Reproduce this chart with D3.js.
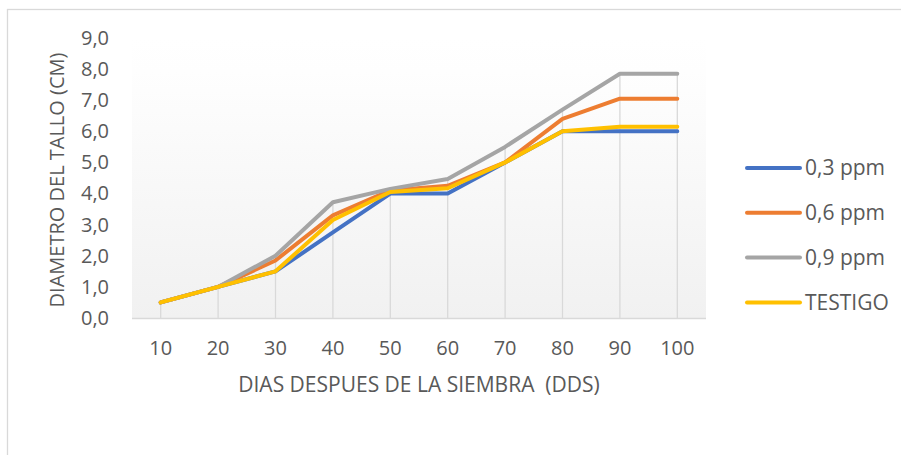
<!DOCTYPE html>
<html>
<head>
<meta charset="utf-8">
<script src="https://cdn.jsdelivr.net/npm/d3@7"></script>
<style>
  html, body { margin: 0; padding: 0; background: #fff; }
  svg { display: block; font-family: "Open Sans", "Noto Sans", sans-serif; }
</style>
</head>
<body>
<svg id="chart" width="901" height="455"></svg>
<script>
// Days after sowing (x categories)
const days = [10, 20, 30, 40, 50, 60, 70, 80, 90, 100];

// Stem diameter (cm) per treatment
const serie03 = [0.5, 1.0, 1.5, 2.75, 4.0, 4.0, 5.0, 6.0, 6.0, 6.0];
const serie06 = [0.5, 1.0, 1.85, 3.3, 4.1, 4.25, 5.0, 6.4, 7.05, 7.05];
const serie09 = [0.5, 1.0, 2.0, 3.72, 4.15, 4.47, 5.5, 6.7, 7.85, 7.85];
const testigo = [0.5, 1.0, 1.5, 3.15, 4.05, 4.17, 5.0, 6.0, 6.15, 6.15];

const seriesNames = ["0,3 ppm", "0,6 ppm", "0,9 ppm", "TESTIGO"];
const seriesColors = ["#4472C4", "#ED7D31", "#A5A5A5", "#FFC000"];
const seriesValues = [serie03, serie06, serie09, testigo];

const yTicks = [0, 1, 2, 3, 4, 5, 6, 7, 8, 9];

const svg = d3.select("#chart");

// Outer chart frame
svg.append("rect")
  .attr("x", 7.5).attr("y", 9.5)
  .attr("width", 910).attr("height", 460)
  .attr("fill", "#fff")
  .attr("stroke", "#d9d9d9").attr("stroke-width", 1.3);

const plot = { left: 132, right: 706, top: 38, bottom: 318 };

const x = d3.scaleBand()
  .domain(days)
  .range([plot.left, plot.right]);

const y = d3.scaleLinear()
  .domain([0, 9])
  .range([plot.bottom, plot.top]);

// Plot area background gradient
const defs = svg.append("defs");
const grad = defs.append("linearGradient")
  .attr("id", "plotBg").attr("x1", 0).attr("y1", 0).attr("x2", 0).attr("y2", 1);
grad.append("stop").attr("offset", "0%").attr("stop-color", "#ffffff");
grad.append("stop").attr("offset", "12%").attr("stop-color", "#fefefe");
grad.append("stop").attr("offset", "100%").attr("stop-color", "#f1f1f1");

svg.append("rect")
  .attr("x", plot.left).attr("y", plot.top)
  .attr("width", plot.right - plot.left)
  .attr("height", plot.bottom - plot.top)
  .attr("fill", "url(#plotBg)");

const cx = d => x(d) + x.bandwidth() / 2;

// Drop lines from the highest value down to the axis
const maxPerDay = days.map((d, i) => d3.max(seriesValues, s => s[i]));
svg.append("g").selectAll("line")
  .data(days)
  .join("line")
  .attr("x1", d => cx(d)).attr("x2", d => cx(d))
  .attr("y1", plot.bottom)
  .attr("y2", (d, i) => y(maxPerDay[i]))
  .attr("stroke", "#d9d9d9").attr("stroke-width", 1.3);

// X axis line
svg.append("line")
  .attr("x1", plot.left).attr("x2", plot.right)
  .attr("y1", plot.bottom + 0.5).attr("y2", plot.bottom + 0.5)
  .attr("stroke", "#d9d9d9").attr("stroke-width", 1.5);

// X axis tick labels
const xAxis = d3.axisBottom(x).tickSize(0).tickPadding(0);
const gx = svg.append("g")
  .attr("transform", `translate(0,${plot.bottom})`)
  .call(xAxis);
gx.select(".domain").remove();
gx.selectAll("text")
  .attr("y", 30)
  .attr("dy", "0.35em")
  .attr("font-size", 20)
  .attr("font-family", "'Open Sans', sans-serif")
  .attr("fill", "#595959");

// Y axis tick labels
const yAxis = d3.axisLeft(y)
  .tickValues(yTicks)
  .tickSize(0)
  .tickPadding(0)
  .tickFormat(v => d3.format(".1f")(v).replace(".", ","));
const gy = svg.append("g")
  .attr("transform", `translate(109,0)`)
  .call(yAxis);
gy.select(".domain").remove();
gy.selectAll("text")
  .attr("font-size", 20)
  .attr("font-family", "'Open Sans', sans-serif")
  .attr("fill", "#595959");

// Series lines
const line = d3.line()
  .x((v, i) => cx(days[i]))
  .y(v => y(v));

svg.append("g").selectAll("path")
  .data(seriesValues)
  .join("path")
  .attr("d", d => line(d))
  .attr("fill", "none")
  .attr("stroke", (d, i) => seriesColors[i])
  .attr("stroke-width", 4)
  .attr("stroke-linejoin", "round")
  .attr("stroke-linecap", "round");

// Axis titles
svg.append("text")
  .attr("x", 419).attr("y", 385)
  .attr("dy", "0.35em")
  .attr("text-anchor", "middle")
  .attr("font-size", 21)
  .attr("fill", "#595959")
  .attr("xml:space", "preserve")
  .text("DIAS DESPUES DE LA SIEMBRA  (DDS)");

svg.append("text")
  .attr("transform", "translate(57,180) rotate(-90)")
  .attr("dy", "0.35em")
  .attr("text-anchor", "middle")
  .attr("font-size", 20)
  .attr("fill", "#595959")
  .text("DIAMETRO DEL TALLO (CM)");

// Legend
const legend = svg.append("g").selectAll("g")
  .data(seriesNames)
  .join("g")
  .attr("transform", (d, i) => `translate(747,${168 + i * 44.8})`);
legend.append("line")
  .attr("x1", 0).attr("x2", 53)
  .attr("stroke", (d, i) => seriesColors[i])
  .attr("stroke-width", 4)
  .attr("stroke-linecap", "round");
legend.append("text")
  .attr("x", 58)
  .attr("dy", "0.35em")
  .attr("font-size", 21)
  .attr("fill", "#595959")
  .text(d => d);
</script>
</body>
</html>
